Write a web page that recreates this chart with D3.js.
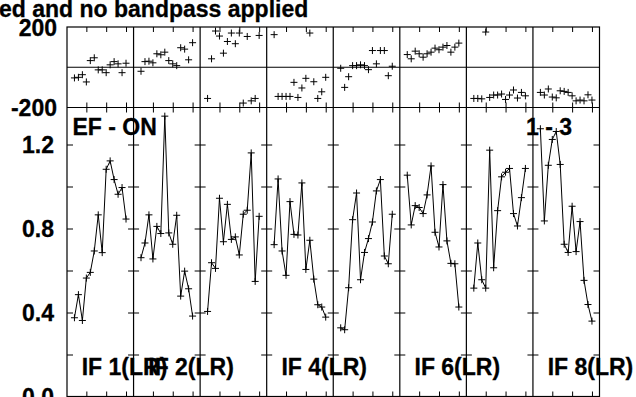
<!DOCTYPE html>
<html><head><meta charset="utf-8">
<script src="https://cdn.jsdelivr.net/npm/d3@7"></script>
<style>
body{margin:0;background:#fff}
svg{display:block}
text{font-family:"Liberation Sans",Arial,Helvetica,sans-serif;font-weight:bold;fill:#000;stroke:#000;stroke-width:0.3px}
</style>
</head><body>
<svg id="c" width="636" height="397"></svg>
<script>
// ---- data ----
const titleText = "ed and no bandpass applied";
const sourceLabel = "EF - ON";
const baselineLabel = "1 - 3";
const ifLabels = ["IF 1(LR)", "IF 2(LR)", null, "IF 4(LR)", null, "IF 6(LR)", null, "IF 8(LR)"];
const channels = [1, 2, 3, 4, 5, 6, 7, 8, 9, 10, 11, 12, 13, 14];
const channelTicks = [4, 9, 14];
const ampTicks = [0.2, 0.4, 0.6, 0.8, 1.0, 1.2];
const ampTickLabels = [0.0, 0.4, 0.8, 1.2];
const phaseTickLabels = [200, -200];

const amp1 = [0.375, 0.485, 0.362, 0.564, 0.591, 0.693, 0.865, 0.685, 1.082, 1.122, 1.033, 0.963, 0.995, 0.845];
const amp2 = [0.661, 0.731, 0.865, 0.655, 0.810, 0.776, 1.335, 0.779, 0.725, 0.863, 0.478, 0.597, 0.513, 0.383];
const amp3 = [0.405, 0.637, 0.610, 0.944, 0.737, 0.915, 0.748, 0.760, 0.674, 0.868, 0.887, 1.160, 0.548, 0.858];
const amp4 = [0.723, 1.036, 0.693, 0.577, 0.928, 0.772, 0.769, 1.017, 0.605, 0.744, 0.559, 0.437, 0.426, 0.378];
const amp5 = [0.327, 0.318, 0.518, 0.842, 0.969, 0.556, 0.686, 0.752, 0.831, 0.979, 1.033, 0.669, 0.632, 0.868];
const amp6 = [1.054, 0.817, 0.909, 0.900, 0.871, 0.960, 1.098, 0.782, 0.712, 1.009, 0.741, 0.634, 0.632, 0.426];
const amp7 = [0.516, 0.731, 0.556, 0.516, 1.173, 0.613, 0.885, 1.046, 1.068, 1.086, 0.871, 0.812, 0.947, 1.086];
const amp8 = [1.275, 0.836, 1.101, 1.224, 1.262, 1.105, 0.725, 0.686, 0.906, 0.690, 0.833, 0.553, 0.438, 0.359];

const phase1 = [-53, -50, -37, -73, 33, 47, -13, -13, -27, 12, 28, 17, -27, 20];
const phase2 = [-20, 28, 30, 22, 67, 62, 75, 33, 17, 8, 97, 90, 37, 122];
const phase3 = [-155, 42, 180, 155, 70, 128, 170, 117, 170, -178, 153, -167, -155, 158];
const phase4 = [162, -145, -145, -145, -145, -75, -150, -103, -55, 170, -72, -155, -122, -50];
const phase5 = [-5, -100, -47, 8, 8, 12, 8, -12, 83, 17, 83, 83, -42, 5];
const phase6 = [63, 42, 80, 67, 50, 67, 75, 95, 87, 100, 108, 75, 100, 120];
const phase7 = [-155, -155, -157, 175, -150, -138, -138, -133, -160, -138, -113, -153, -125, -142];
const phase8 = [-125, -138, -108, -148, -152, -117, -120, -125, -142, -167, -163, -167, -137, -163];

const amps = [amp1, amp2, amp3, amp4, amp5, amp6, amp7, amp8];
const phases = [phase1, phase2, phase3, phase4, phase5, phase6, phase7, phase8];

// ---- layout ----
const svg = d3.select("#c");
const L = 67, R = 599.5, T = 27, MID = 107.5, B = 396.5;
const FS = 23;
const panel = d3.scaleBand().domain(d3.range(8)).range([L, R]);
const x = d3.scaleLinear().domain([-0.875, 15.9]).range([0, panel.bandwidth()]);
const yP = d3.scaleLinear().domain([-200, 200]).range([MID, T]);
const yA = d3.scaleLinear().domain([0, (B - MID) / 210]).range([B, MID]);

const plus = (cx, cy, s) => `M${cx - s},${cy}h${2 * s}M${cx},${cy - s}v${2 * s}`;

// frame & separators
const frame = svg.append("g").attr("fill", "none").attr("stroke", "#000").attr("stroke-width", 1.2);
frame.append("rect").attr("x", L).attr("y", T).attr("width", R - L).attr("height", B - T);
frame.append("line").attr("x1", L).attr("x2", R).attr("y1", MID).attr("y2", MID);
frame.append("line").attr("x1", L).attr("x2", R).attr("y1", yP(0)).attr("y2", yP(0));
for (let i = 1; i < 8; i++) {
  frame.append("line").attr("x1", panel(i)).attr("x2", panel(i)).attr("y1", T).attr("y2", B);
}

// ticks via axes
function cleanAxis(g) {
  g.select(".domain").remove();
  g.selectAll(".tick line").attr("stroke", "#000");
  g.selectAll(".tick text").remove();
}
for (let i = 0; i < 8; i++) {
  const x0 = panel(i);
  svg.append("g").attr("transform", `translate(${x0},${T})`)
     .call(d3.axisBottom(x).tickValues(channelTicks).tickFormat("").tickSize(5)).call(cleanAxis);
  svg.append("g").attr("transform", `translate(${x0},${MID})`)
     .call(d3.axisBottom(x).tickValues(channelTicks).tickFormat("").tickSize(5)).call(cleanAxis)
     .selectAll(".tick line").attr("y1", -5).attr("y2", 5);
  svg.append("g").attr("transform", `translate(${x0},${B})`)
     .call(d3.axisTop(x).tickValues(channelTicks).tickFormat("").tickSize(5)).call(cleanAxis);
}
for (let i = 0; i <= 8; i++) {
  const xb = i < 8 ? panel(i) : R;
  const g = svg.append("g").attr("transform", `translate(${xb},0)`)
    .call(d3.axisLeft(yA).tickValues(ampTicks).tickFormat("").tickSize(6)).call(cleanAxis);
  if (i === 0) g.selectAll(".tick line").attr("x2", 6);
  if (i > 0 && i < 8) g.selectAll(".tick line").attr("x1", 5.5).attr("x2", -5.5);
}

// y labels
svg.append("g").selectAll("text").data(phaseTickLabels).join("text")
  .attr("x", 57).attr("y", d => yP(d) + 8.5).attr("text-anchor", "end").attr("font-size", FS)
  .text(d => d);
svg.append("g").selectAll("text").data(ampTickLabels).join("text")
  .attr("x", 54).attr("y", d => yA(d) + 8.5).attr("text-anchor", "end").attr("font-size", FS)
  .text(d => d3.format(".1f")(d));

// data marks
for (let i = 0; i < 8; i++) {
  const g = svg.append("g").attr("transform", `translate(${panel(i)},0)`);
  const pts = channels.map((c, k) => [x(c), yA(amps[i][k])]);
  g.append("path").attr("d", d3.line()(pts)).attr("fill", "none").attr("stroke", "#000").attr("stroke-width", 1);
  g.append("path").attr("d", pts.map(p => plus(p[0], p[1], 3.5)).join(""))
    .attr("fill", "none").attr("stroke", "#000").attr("stroke-width", 1);
  const pp = channels.map((c, k) => [x(c), yP(phases[i][k])]);
  g.append("path").attr("d", pp.map(p => plus(p[0], p[1], 3.5)).join(""))
    .attr("fill", "none").attr("stroke", "#000").attr("stroke-width", 1);
}

// texts
svg.append("text").attr("x", -1).attr("y", 16.7).attr("font-size", FS).text(titleText);
svg.append("text").attr("x", 72.5).attr("y", 135).attr("font-size", FS).text(sourceLabel);
svg.append("text").attr("x", 526).attr("y", 135).attr("font-size", FS).text(baselineLabel);
ifLabels.forEach((t, i) => {
  if (!t) return;
  svg.append("text").attr("x", panel(i) + 14.7).attr("y", 375).attr("font-size", FS).text(t);
});
</script>
</body></html>
